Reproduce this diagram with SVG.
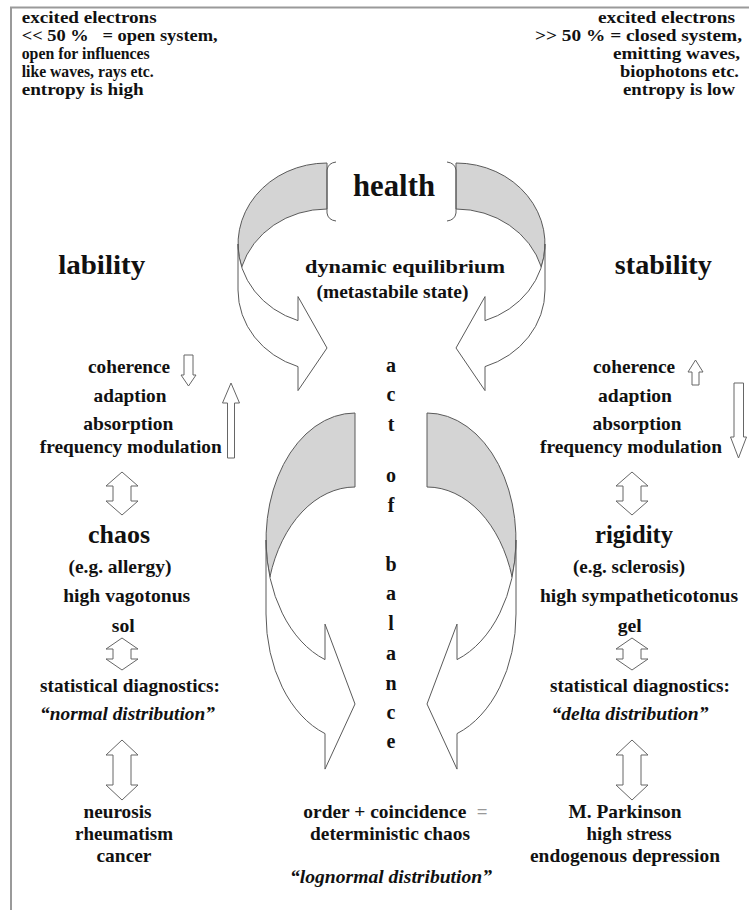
<svg xmlns="http://www.w3.org/2000/svg" width="749" height="910" viewBox="0 0 749 910">
<style>
text{font-family:"Liberation Serif","Times New Roman",serif;font-weight:bold;fill:#111;white-space:pre}
.m{text-anchor:middle}
.e{text-anchor:end}
.i{font-style:italic}
.f{font-size:16.5px}
.g{font-size:19px}
.l{font-size:20px}
.big{font-size:27px}
.mid{font-size:25px}
.front{fill:#fff;stroke:#5a5a5a;stroke-width:1}
.back{fill:#d4d4d4;stroke:#5a5a5a;stroke-width:1}
.blk{fill:#fff;stroke:#666;stroke-width:1}
.brd{fill:none;stroke:#9a9a9a;stroke-width:2}
</style>
<defs>
<g id="curveTop">
<path class="back" d="M327,209 A89,81 0 0 0 241.7,267 A89,81 0 0 1 327,163 Z"/>
<path class="front" d="M238,244 A89,81 0 0 0 298,320.6 L298,296.6 L327,348 L298,390.6 L298,366.6 A89,81 0 0 1 238,290 Z"/>
<path class="front" style="fill:none" d="M336,162 Q328,163 327,170 L327,213 Q328,220 336,221"/>
</g>
<g id="curveLow">
<path class="back" d="M355,487 A89,127 0 0 0 269.9,577 A89,127 0 0 1 355,413 Z"/>
<path class="front" d="M266,540 A89,127 0 0 0 325,659.6 L325,624.1 L355,704 L325,769.1 L325,733.6 A89,127 0 0 1 266,614 Z"/>
</g>
<path id="dbl1" class="blk" d="M0,0 L16,14 H9 V29 H16 L0,43 L-16,29 H-9 V14 H-16 Z"/>
<path id="dbl2" class="blk" d="M0,0 L16,11 H9 V21 H16 L0,32 L-16,21 H-9 V11 H-16 Z"/>
<path id="dbl3" class="blk" d="M0,0 L16,15 H9 V45 H16 L0,60 L-16,45 H-9 V15 H-16 Z"/>
</defs>

<g id="border">
<path class="brd" d="M11,910 V7.5 H749"/>
</g>

<g id="connectors">
<g id="arrow-top-left"><use href="#curveTop"/></g>
<g id="arrow-top-right"><use href="#curveTop" transform="translate(783,0) scale(-1,1)"/></g>
<g id="arrow-low-left"><use href="#curveLow"/></g>
<g id="arrow-low-right"><use href="#curveLow" transform="translate(782,0) scale(-1,1)"/></g>
<path class="blk" d="M184,355 H193 V375 H196 L188.5,386 L181,375 H184 Z"/>
<path class="blk" d="M231,383 L239.5,403 H234.5 V458 H227.5 V403 H222.5 Z"/>
<path class="blk" d="M695.5,360 L703,372 H699 V385 H692 V372 H688 Z"/>
<path class="blk" d="M734,383 H743.5 V437 H746.5 L738.5,458 L730.5,437 H734 Z"/>
<use href="#dbl1" x="122" y="472"/>
<use href="#dbl2" x="122" y="638"/>
<use href="#dbl3" x="122" y="740"/>
<use href="#dbl1" x="632" y="472"/>
<use href="#dbl2" x="632" y="638"/>
<use href="#dbl3" x="632" y="740"/>
</g>

<g id="open-system">
<text class="f" x="21.7" y="23" textLength="135" lengthAdjust="spacingAndGlyphs">excited electrons</text>
<text class="f" x="21.7" y="41" textLength="196" lengthAdjust="spacingAndGlyphs">&lt;&lt; 50 %   = open system,</text>
<text class="f" x="21.7" y="59" textLength="128" lengthAdjust="spacingAndGlyphs">open for influences</text>
<text class="f" x="21.7" y="77" textLength="132" lengthAdjust="spacingAndGlyphs">like waves, rays etc.</text>
<text class="f" x="21.7" y="95" textLength="122" lengthAdjust="spacingAndGlyphs">entropy is high</text>
</g>

<g id="closed-system">
<text class="f e" x="735" y="23" textLength="137" lengthAdjust="spacingAndGlyphs">excited electrons</text>
<text class="f e" x="742" y="41" textLength="207" lengthAdjust="spacingAndGlyphs">&gt;&gt; 50 % = closed system,</text>
<text class="f e" x="740" y="59" textLength="127" lengthAdjust="spacingAndGlyphs">emitting waves,</text>
<text class="f e" x="739" y="77" textLength="119" lengthAdjust="spacingAndGlyphs">biophotons etc.</text>
<text class="f e" x="735" y="95" textLength="112" lengthAdjust="spacingAndGlyphs">entropy is low</text>
</g>

<g id="health">
<text class="m" x="394" y="196" style="font-size:31px" textLength="82" lengthAdjust="spacingAndGlyphs">health</text>
</g>

<g id="equilibrium">
<text class="g m" x="405" y="273" textLength="200" lengthAdjust="spacingAndGlyphs">dynamic equilibrium</text>
<text class="g m" x="392.5" y="298" textLength="152" lengthAdjust="spacingAndGlyphs">(metastabile state)</text>
</g>

<g id="lability">
<text class="big m" x="101.7" y="274" textLength="87" lengthAdjust="spacingAndGlyphs">lability</text>
</g>
<g id="stability">
<text class="big m" x="663.3" y="274" textLength="97" lengthAdjust="spacingAndGlyphs">stability</text>
</g>

<g id="left-properties">
<text class="g m" x="129" y="373" textLength="82" lengthAdjust="spacingAndGlyphs">coherence</text>
<text class="g m" x="130" y="402" textLength="73" lengthAdjust="spacingAndGlyphs">adaption</text>
<text class="g m" x="128.3" y="430" textLength="90" lengthAdjust="spacingAndGlyphs">absorption</text>
<text class="g m" x="130.8" y="453" textLength="182" lengthAdjust="spacingAndGlyphs">frequency modulation</text>
</g>
<g id="right-properties">
<text class="g m" x="634" y="373" textLength="82" lengthAdjust="spacingAndGlyphs">coherence</text>
<text class="g m" x="635" y="402" textLength="74" lengthAdjust="spacingAndGlyphs">adaption</text>
<text class="g m" x="637" y="430" textLength="89" lengthAdjust="spacingAndGlyphs">absorption</text>
<text class="g m" x="631" y="453" textLength="182" lengthAdjust="spacingAndGlyphs">frequency modulation</text>
</g>

<g id="chaos">
<text class="mid m" x="119" y="543" textLength="62" lengthAdjust="spacingAndGlyphs">chaos</text>
<text class="g m" x="120" y="573" textLength="103" lengthAdjust="spacingAndGlyphs">(e.g. allergy)</text>
<text class="g m" x="126.7" y="602" textLength="127" lengthAdjust="spacingAndGlyphs">high vagotonus</text>
<text class="g m" x="123.3" y="632" textLength="23" lengthAdjust="spacingAndGlyphs">sol</text>
</g>
<g id="rigidity">
<text class="mid m" x="634" y="543" textLength="78" lengthAdjust="spacingAndGlyphs">rigidity</text>
<text class="g m" x="629" y="573" textLength="112" lengthAdjust="spacingAndGlyphs">(e.g. sclerosis)</text>
<text class="g m" x="639" y="602" textLength="198" lengthAdjust="spacingAndGlyphs">high sympatheticotonus</text>
<text class="g m" x="629.7" y="632" textLength="24" lengthAdjust="spacingAndGlyphs">gel</text>
</g>

<g id="left-statistics">
<text class="g m" x="130" y="692" textLength="180" lengthAdjust="spacingAndGlyphs">statistical diagnostics:</text>
<text class="g m i" x="127.5" y="720" textLength="175" lengthAdjust="spacingAndGlyphs">“normal distribution”</text>
</g>
<g id="right-statistics">
<text class="g m" x="640" y="692" textLength="180" lengthAdjust="spacingAndGlyphs">statistical diagnostics:</text>
<text class="g m i" x="630" y="720" textLength="157" lengthAdjust="spacingAndGlyphs">“delta distribution”</text>
</g>

<g id="left-diseases">
<text class="g m" x="117.5" y="818" textLength="68" lengthAdjust="spacingAndGlyphs">neurosis</text>
<text class="g m" x="124" y="840" textLength="98" lengthAdjust="spacingAndGlyphs">rheumatism</text>
<text class="g m" x="124" y="862" textLength="55" lengthAdjust="spacingAndGlyphs">cancer</text>
</g>
<g id="right-diseases">
<text class="g m" x="625" y="818" textLength="113" lengthAdjust="spacingAndGlyphs">M. Parkinson</text>
<text class="g m" x="629" y="840" textLength="85" lengthAdjust="spacingAndGlyphs">high stress</text>
<text class="g m" x="625" y="862" textLength="190" lengthAdjust="spacingAndGlyphs">endogenous depression</text>
</g>

<g id="act-of-balance">
<text class="l m" x="391" y="372">a</text>
<text class="l m" x="391" y="401">c</text>
<text class="l m" x="391" y="431">t</text>
<text class="l m" x="391" y="482">o</text>
<text class="l m" x="391" y="512">f</text>
<text class="l m" x="391" y="571">b</text>
<text class="l m" x="391" y="600">a</text>
<text class="l m" x="391" y="630">l</text>
<text class="l m" x="391" y="660">a</text>
<text class="l m" x="391" y="690">n</text>
<text class="l m" x="391" y="719">c</text>
<text class="l m" x="391" y="748">e</text>
</g>

<g id="deterministic-chaos">
<text class="g" x="303.3" y="818" textLength="163" lengthAdjust="spacingAndGlyphs">order + coincidence</text>
<text class="g" x="476.7" y="818" style="fill:#999">=</text>
<text class="g m" x="390" y="840" textLength="160" lengthAdjust="spacingAndGlyphs">deterministic chaos</text>
<text class="g m i" x="391" y="883" textLength="202" lengthAdjust="spacingAndGlyphs">“lognormal distribution”</text>
</g>
</svg>
